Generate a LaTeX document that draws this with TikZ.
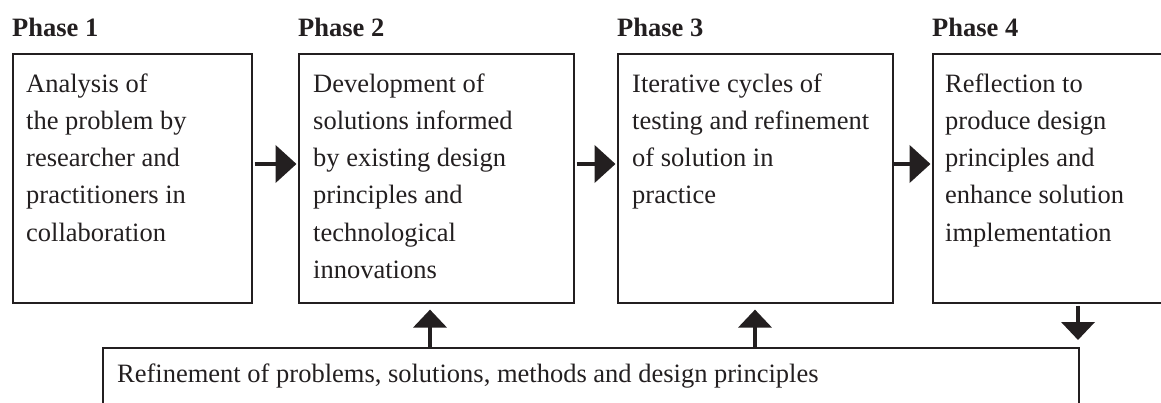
\documentclass[tikz,border=0pt]{standalone}
\usepackage{fontspec}
\setmainfont{Liberation Serif}
\usetikzlibrary{arrows.meta,calc}
\definecolor{ink}{HTML}{231F20}
\begin{document}
\begin{tikzpicture}[x=1pt,y=-1pt,
  box/.style={draw=ink,line width=1.6pt,rectangle,inner sep=0pt,anchor=north west},
  txt/.style={text=ink,inner sep=0pt,anchor=north west,align=left,
    font=\fontsize{26.5}{37.2}\selectfont},
  phase/.style={text=ink,inner sep=0pt,anchor=base west,
    font=\fontsize{26.5}{32}\selectfont\bfseries},
  harrow/.style={draw=ink,line width=4.6pt,-{Triangle[length=21pt,width=37pt]},fill=ink},
  varrow/.style={draw=ink,line width=4pt,-{Triangle[length=18pt,width=33pt]},fill=ink}]
\useasboundingbox (0,0) rectangle (1161,403);
\clip (0,0) rectangle (1161,403);
% boxes
\node[box,minimum width=239pt,minimum height=249pt] (b1) at (12,53) {};
\node[box,minimum width=275pt,minimum height=249pt] (b2) at (298,53) {};
\node[box,minimum width=275pt,minimum height=249pt] (b3) at (617,53) {};
\node[box,minimum width=240pt,minimum height=249pt] (b4) at (932,53) {};
\node[box,minimum width=976pt,minimum height=90pt] (bot) at (102,347) {};
% phase labels
\node[phase] (p1) at (12,37) {Phase 1};
\node[phase] (p2) at (298,37) {Phase 2};
\node[phase] (p3) at (617,37) {Phase 3};
\node[phase] (p4) at (932,37) {Phase 4};
% texts
\node[txt] (t1) at ([xshift=14pt,yshift=-13pt]b1.north west)
  {\strut Analysis of\\the problem by\\researcher and\\practitioners in\\collaboration};
\node[txt] (t2) at ([xshift=15pt,yshift=-13pt]b2.north west)
  {\strut Development of\\solutions informed\\by existing design\\principles and\\technological\\innovations};
\node[txt] (t3) at ([xshift=15pt,yshift=-13pt]b3.north west)
  {\strut Iterative cycles of\\testing and refinement\\of solution in\\practice};
\node[txt] (t4) at ([xshift=13pt,yshift=-13pt]b4.north west)
  {\strut Reflection to\\produce design\\principles and\\enhance solution\\implementation};
\node[text=ink,inner sep=0pt,anchor=base west,font=\fontsize{26.5}{32}\selectfont]
  (tb) at ([xshift=15pt,yshift=-35pt]bot.north west)
  {Refinement of problems, solutions, methods and design principles};
% connector helper coordinates
\coordinate (ay) at (0,164);
\coordinate (u1) at (430,0);
\coordinate (u2) at (755,0);
\coordinate (d1) at (1078,0);
% horizontal arrows
\draw[harrow,shorten <=2pt,shorten >=1.5pt] (b1.east |- ay) -- (b2.west |- ay);
\draw[harrow,shorten <=2pt,shorten >=1.5pt] (b2.east |- ay) -- (b3.west |- ay);
\draw[harrow,shorten <=0pt,shorten >=1.5pt] (b3.east |- ay) -- (b4.west |- ay);
% vertical arrows
\draw[varrow,shorten >=6pt] (bot.north -| u1) -- (b2.south -| u1);
\draw[varrow,shorten >=6pt] (bot.north -| u2) -- (b3.south -| u2);
\draw[varrow,shorten <=2pt,shorten >=7pt] (b4.south -| d1) -- (bot.north -| d1);
\end{tikzpicture}
\end{document}
